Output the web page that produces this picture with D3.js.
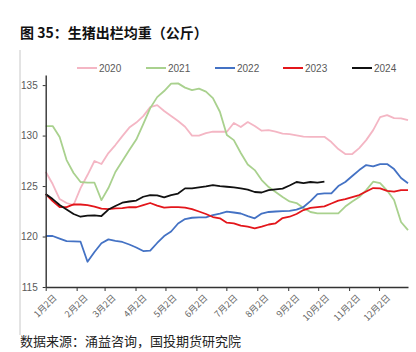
<!DOCTYPE html>
<html><head><meta charset="utf-8">
<script src="https://cdn.jsdelivr.net/npm/d3@7"></script>
<style>
html,body{margin:0;padding:0;background:#fff;}
svg{display:block;font-family:"Liberation Sans","Noto Sans CJK SC",sans-serif;}
</style></head>
<body><svg id="c" width="416" height="352"></svg>
<script>
const title = "图 35：生猪出栏均重（公斤）";
const source = "数据来源：涌益咨询，国投期货研究院";
const seriesNames = ["2020","2021","2022","2023","2024"];
const seriesColors = ["#F4B6C4","#A9D18E","#4472C4","#E3161B","#111111"];
const monthTicks = ["1月2日","2月2日","3月2日","4月2日","5月2日","6月2日","7月2日","8月2日","9月2日","10月2日","11月2日","12月2日"];
const yTicks = [115,120,125,130,135];

const v2020 = [126.42,125.20,123.71,123.32,123.12,124.80,126.09,127.48,127.18,128.27,129.06,129.95,130.79,131.29,131.93,132.82,133.02,132.43,131.93,131.44,130.87,130.00,130.00,130.25,130.38,130.38,130.38,131.24,130.84,131.34,130.94,130.48,130.54,130.40,130.20,130.15,130.02,129.90,129.88,129.88,129.88,129.36,128.66,128.17,128.17,128.76,129.55,130.54,131.83,132.03,131.73,131.70,131.53];
const v2021 = [130.94,130.94,129.85,127.57,126.29,125.40,125.33,125.33,123.61,124.80,126.39,127.48,128.56,129.60,131.14,132.72,133.81,134.41,135.15,135.17,134.75,134.50,134.65,134.36,133.71,132.36,130.05,129.55,128.27,127.13,126.58,125.59,124.90,124.41,123.91,123.47,123.32,122.82,122.43,122.30,122.30,122.30,122.30,122.97,123.47,123.91,124.60,125.43,125.30,124.55,123.61,121.44,120.64];
const v2022 = [120.05,120.05,119.80,119.55,119.52,119.49,117.50,118.47,119.33,119.72,119.58,119.46,119.21,118.91,118.56,118.61,119.36,120.05,120.50,121.29,121.73,121.86,121.90,121.90,122.13,122.28,122.46,122.38,122.28,122.03,121.80,122.28,122.43,122.48,122.52,122.55,122.67,122.92,123.51,124.21,124.28,124.28,125.00,125.40,125.99,126.58,127.08,126.95,127.18,127.18,126.68,125.79,125.27];
const v2023 = [124.21,123.51,122.92,122.92,123.19,123.17,123.12,122.97,122.77,122.72,122.79,122.82,122.92,122.90,123.12,123.32,123.07,122.87,122.92,122.92,122.87,122.72,122.48,122.23,121.93,121.80,121.37,121.31,121.09,120.97,120.81,120.99,121.19,121.31,121.83,121.96,122.23,122.62,122.84,122.92,122.99,123.27,123.56,123.71,123.91,124.11,124.46,124.80,124.77,124.52,124.45,124.60,124.60];
const v2024 = [124.21,123.71,123.12,122.67,122.23,121.96,122.08,122.10,122.03,122.67,123.02,123.35,123.47,123.56,123.94,124.11,124.08,123.88,124.11,124.26,124.77,124.77,124.87,124.97,125.10,125.00,124.93,124.87,124.77,124.65,124.41,124.36,124.60,124.68,124.75,125.05,125.40,125.28,125.40,125.34,125.43];
const allSeries = [v2020,v2021,v2022,v2023,v2024];

const svg = d3.select("#c");
const pLeft = 45.7, pRight = 408, pTop = 75, pBottom = 287;
const x = d3.scaleLinear().domain([0,52]).range([pLeft,pRight]);
const xt = d3.scaleTime().domain([new Date(2021,0,2), new Date(2021,11,31)]).range([pLeft,pRight]);
const y = d3.scaleLinear().domain([115,136]).range([pBottom,pTop]);

// left border line
svg.append("line").attr("x1",20).attr("x2",20).attr("y1",50).attr("y2",335).attr("stroke","#c8c8c8").attr("stroke-width",1);

// title
svg.append("text").attr("x",20).attr("y",38).attr("font-size",14).attr("font-weight","bold")
  .attr("font-family","'Noto Sans CJK SC',sans-serif").attr("fill","#111").text(title);

// source
svg.append("text").attr("x",20).attr("y",346).attr("font-size",13)
  .attr("font-family","'Noto Sans CJK SC',sans-serif").attr("fill","#222").text(source);

// lines
const line = d3.line().x((d,i)=>x(i)).y(d=>y(d));
allSeries.forEach((s,k)=>{
  svg.append("path").datum(s).attr("d",line).attr("fill","none")
    .attr("stroke",seriesColors[k]).attr("stroke-width",1.8).attr("stroke-linejoin","round");
});

// y axis
const yAxis = svg.append("g").attr("transform",`translate(${pLeft},0)`)
  .call(d3.axisLeft(y).tickValues(yTicks).tickSize(3).tickPadding(5).tickSizeOuter(0));
yAxis.select(".domain").attr("stroke","#333").attr("stroke-width",1.4);
yAxis.selectAll(".tick line").attr("stroke","#333");
yAxis.selectAll("text").attr("font-size",10).attr("fill","#595959");

// x axis
const monthDates = d3.range(12).map(m=>new Date(2021,m,2));
const xAxis = svg.append("g").attr("transform",`translate(0,${pBottom})`)
  .call(d3.axisBottom(xt).tickValues(monthDates).tickSize(4).tickSizeOuter(0).tickFormat((d,i)=>monthTicks[i]));
xAxis.select(".domain").attr("stroke","#333").attr("stroke-width",1.4);
xAxis.selectAll(".tick line").attr("stroke","#333");
xAxis.selectAll("text").attr("font-size",9).attr("fill","#666")
  .attr("font-family","'Noto Sans CJK SC',sans-serif")
  .attr("text-anchor","end").attr("transform","translate(4,4) rotate(-45)").attr("dy","0.7em").attr("y",4).attr("x",0);

// legend
const legX = [77,146,215,283,352];
seriesNames.forEach((n,k)=>{
  const g = svg.append("g").attr("transform",`translate(${legX[k]},68)`);
  g.append("line").attr("x1",0).attr("x2",20).attr("y1",0).attr("y2",0).attr("stroke",seriesColors[k]).attr("stroke-width",2);
  g.append("text").attr("x",22).attr("y",0).attr("dy","0.35em").attr("font-size",10).attr("fill","#595959").text(n);
});
</script></body></html>
